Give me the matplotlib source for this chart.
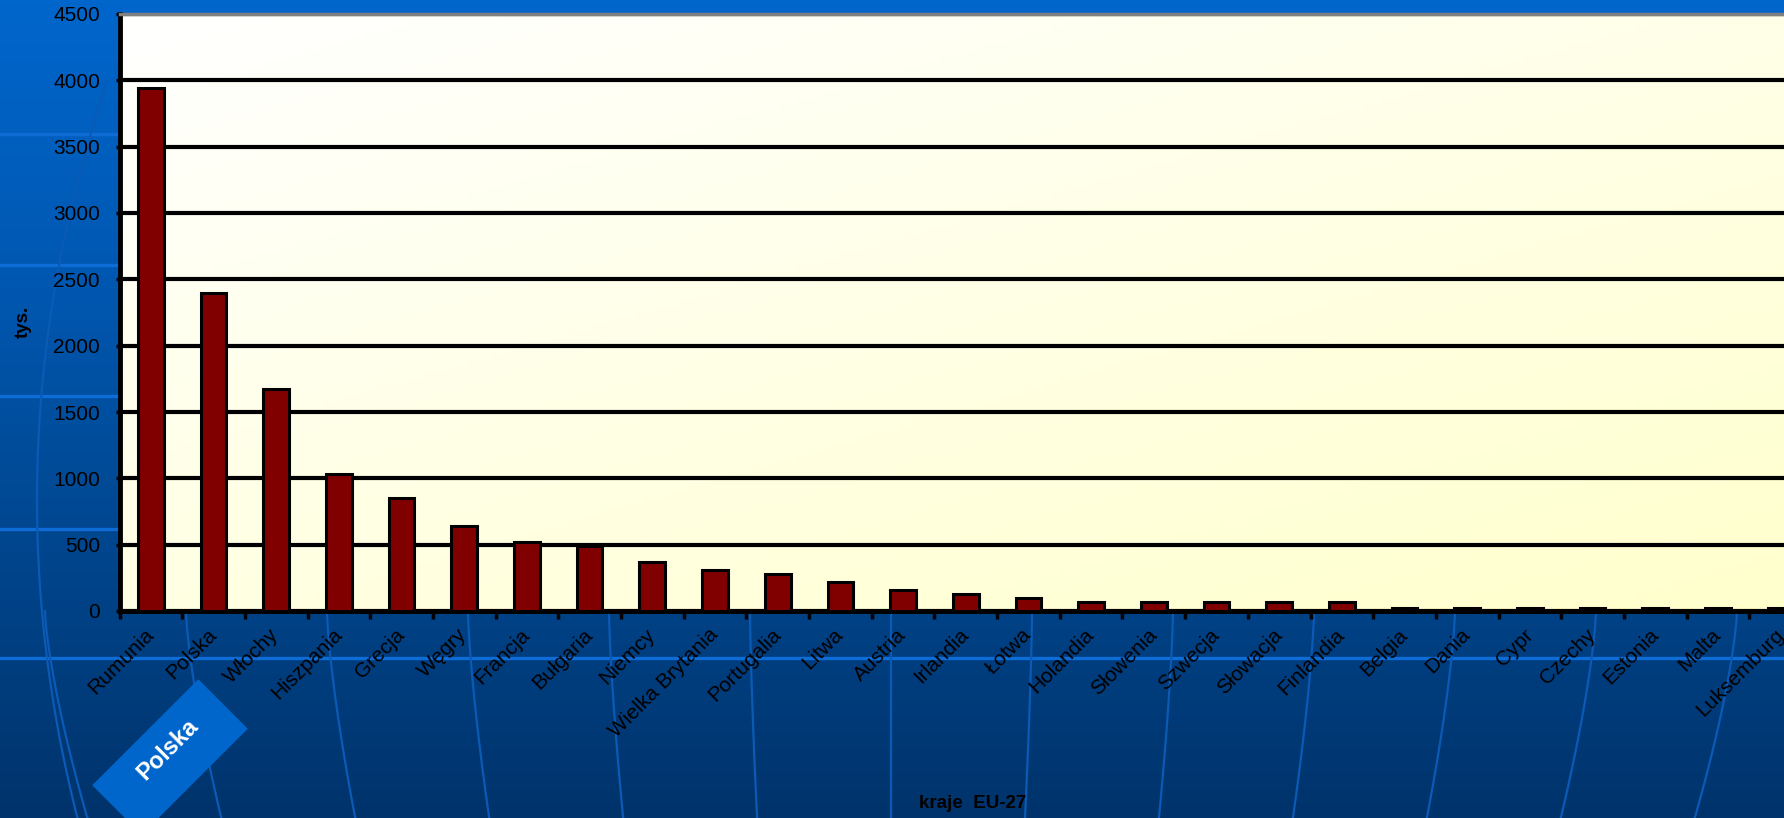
import numpy as np
import matplotlib
matplotlib.use("Agg")
import matplotlib.pyplot as plt
from matplotlib.colors import LinearSegmentedColormap
from matplotlib.patches import Polygon

plt.rcParams['font.family'] = ['Liberation Sans', 'DejaVu Sans']

# liczba gospodarstw rolnych w krajach EU-27 (tys.)
kraje = ['Rumunia', 'Polska', 'Włochy', 'Hiszpania', 'Grecja', 'Węgry',
         'Francja', 'Bułgaria', 'Niemcy', 'Wielka Brytania', 'Portugalia',
         'Litwa', 'Austria', 'Irlandia', 'Łotwa', 'Holandia', 'Słowenia',
         'Szwecja', 'Słowacja', 'Finlandia', 'Belgia', 'Dania', 'Cypr',
         'Czechy', 'Estonia', 'Malta', 'Luksemburg']
wartosci = [3940, 2400, 1670, 1030, 850, 640, 520, 490, 370, 310, 280,
            220, 160, 125, 95, 65, 65, 65, 65, 65, 25, 25, 25, 25, 25, 25, 25]
y_ticks = [0, 500, 1000, 1500, 2000, 2500, 3000, 3500, 4000, 4500]

W, H = 1784, 818
fig = plt.figure(figsize=(W / 100, H / 100), dpi=100)

# tlo slajdu - niebieski gradient z liniami
bg = fig.add_axes([0, 0, 1, 1], zorder=-5)
bg.set_xlim(0, W)
bg.set_ylim(H, 0)
bg.axis('off')
blue = LinearSegmentedColormap.from_list('b', ['#0066cc', '#0058b2', '#00468e', '#00336b'])
grad = np.linspace(0, 1, 256).reshape(-1, 1)
bg.imshow(grad, cmap=blue, aspect='auto', extent=[0, W, H, 0])
for yy in [134, 265, 396, 529, 658]:
    bg.plot([0, W], [yy, yy], color='#0d6cd6', lw=2.4)
ys = np.linspace(611, H, 40)
for x0 in np.arange(45, W + 100, 141):
    xs = x0 - (x0 - W / 2) * 0.05 * ((ys - 611) / 207) ** 1.4
    bg.plot(xs, ys, color='#0a5ab6', lw=1.6)
# luk po lewej stronie
arc_y = np.linspace(80, H, 80)
bg.plot(37 + 0.0004 * (arc_y - 500) ** 2, arc_y, color='#0a5ab6', lw=1.6)

# wykres
ax = fig.add_axes([119.5 / W, (H - 611) / H, (1812 - 119.5) / W, (611 - 14) / H])
ax.patch.set_visible(False)
xx, yy = np.meshgrid(np.linspace(0, 1, 200), np.linspace(1, 0, 100))
cream = LinearSegmentedColormap.from_list('c', ['#ffffff', '#ffffcc'])
ax.imshow(0.45 * xx + 0.55 * (1 - yy), cmap=cream, aspect='auto',
          extent=[0, 1, 0, 1], transform=ax.transAxes, zorder=0)

poz = np.arange(len(kraje))
ax.bar(poz, wartosci, width=0.41, color='#800000', edgecolor='black',
       linewidth=2.2, zorder=3)

ax.set_xlim(-0.5, len(kraje) - 0.5)
ax.set_ylim(0, 4500)
ax.set_yticks(y_ticks)
ax.set_yticklabels([str(v) for v in y_ticks], fontsize=15)
ax.yaxis.grid(True, color='black', lw=3.0, zorder=1)
ax.set_axisbelow(True)

ax.set_xticks(np.arange(-0.5, len(kraje), 1.0))
ax.set_xticklabels([])
ax.set_xticks(poz, minor=True)
ax.set_xticklabels(kraje, minor=True, rotation=45, ha='right', va='center',
                   rotation_mode='anchor', fontsize=15)
ax.tick_params(axis='x', which='major', length=6, width=2.5, color='black', direction='out')
ax.tick_params(axis='x', which='minor', length=0, pad=15)
ax.tick_params(axis='y', length=3, width=2.5, pad=11)

ax.spines['right'].set_visible(False)
ax.spines['top'].set_color('#808080')
ax.spines['top'].set_linewidth(2.5)
ax.spines['left'].set_linewidth(3.5)
ax.spines['bottom'].set_linewidth(3.5)

fig.text(23 / W, 1 - 322 / H, 'tys.', rotation=90, fontsize=13.5,
         fontweight='bold', ha='center', va='center')
fig.text(973 / W, 1 - 804 / H, 'kraje  EU-27', fontsize=13.5,
         fontweight='bold', ha='center', va='center')

# niebieska plakietka "Polska"
cx, cy, L, S = 170, 757, 150, 70
u = np.array([np.cos(np.pi / 4), -np.sin(np.pi / 4)])
v = np.array([np.sin(np.pi / 4), np.cos(np.pi / 4)])
c = np.array([cx, cy])
corners = [c - L / 2 * u - S / 2 * v, c + L / 2 * u - S / 2 * v,
           c + L / 2 * u + S / 2 * v, c - L / 2 * u + S / 2 * v]
bg.add_patch(Polygon(corners, closed=True, facecolor='#0066cc', edgecolor='none', zorder=5))
fig.text((cx - 2) / W, 1 - (cy - 8) / H, 'Polska', rotation=45, fontsize=17,
         fontweight='bold', color='white', ha='center', va='center', zorder=6)

fig.savefig('out.png', dpi=100)
